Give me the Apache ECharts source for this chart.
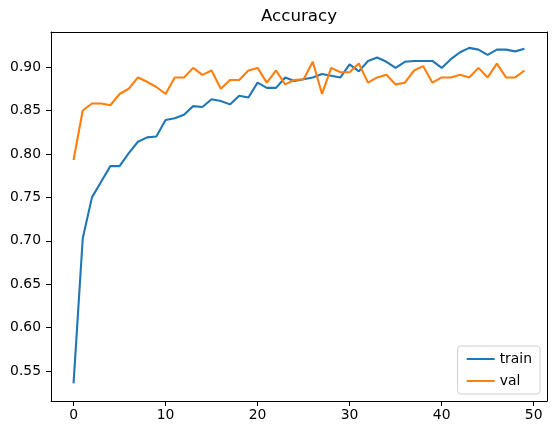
<!DOCTYPE html>
<html>
<head>
<meta charset="utf-8">
<script src="https://cdn.jsdelivr.net/npm/echarts@6/dist/echarts.min.js"></script>
<style>html,body{margin:0;padding:0;background:#fff}#c{width:555px;height:435px}</style>
</head>
<body>
<div id="c"></div>
<script>
var epochs = [];
for (var k = 0; k < 50; k++) epochs.push(k);
var train = [0.536, 0.703, 0.750, 0.768, 0.786, 0.786, 0.801, 0.814, 0.819, 0.820,
             0.839, 0.841, 0.845, 0.855, 0.854, 0.863, 0.861, 0.857, 0.867, 0.865,
             0.882, 0.876, 0.876, 0.888, 0.884, 0.886, 0.888, 0.892, 0.890, 0.888,
             0.903, 0.895, 0.907, 0.911, 0.906, 0.899, 0.906, 0.907, 0.907, 0.907,
             0.899, 0.909, 0.917, 0.922, 0.920, 0.914, 0.920, 0.920, 0.918, 0.921];
var val = [0.793, 0.850, 0.858, 0.858, 0.856, 0.869, 0.875, 0.888, 0.883, 0.877,
           0.869, 0.888, 0.888, 0.899, 0.891, 0.896, 0.875, 0.885, 0.885, 0.896,
           0.899, 0.882, 0.896, 0.880, 0.885, 0.886, 0.906, 0.869, 0.899, 0.894,
           0.894, 0.904, 0.882, 0.888, 0.891, 0.880, 0.882, 0.896, 0.901, 0.882,
           0.888, 0.888, 0.891, 0.888, 0.899, 0.888, 0.904, 0.888, 0.888, 0.896];
var xTicks = [0, 10, 20, 30, 40, 50];
var yTicks = [0.55, 0.60, 0.65, 0.70, 0.75, 0.80, 0.85, 0.90];

function pairs(arr) { return epochs.map(function (e, i) { return [e, arr[i]]; }); }

var font = 'DejaVu Sans';
var xMin = -2.45, xMax = 51.45, yMin = 0.5157, yMax = 0.9403;
var frameAxis = {
  axisLine: { show: true, onZero: false, lineStyle: { color: '#000', width: 1 } },
  axisTick: { show: false }, axisLabel: { show: false }, splitLine: { show: false }
};
var chart = echarts.init(document.getElementById('c'));
chart.setOption({
  animation: false,
  backgroundColor: '#fff',
  title: {
    text: 'Accuracy', left: 299, top: 8, textAlign: 'center', padding: 0,
    textStyle: { fontFamily: font, fontSize: 16.7, fontWeight: 'normal', color: '#000' }
  },
  grid: { left: 51, right: 8, top: 32, bottom: 34 },
  legend: {
    orient: 'vertical', right: 15, bottom: 41,
    backgroundColor: 'rgba(255,255,255,0.8)',
    borderColor: '#d0d0d0', borderWidth: 1, borderRadius: 3,
    padding: [6, 8, 6, 8], itemGap: 8, itemWidth: 28, itemHeight: 14,
    itemStyle: { opacity: 0 },
    textStyle: { fontFamily: font, fontSize: 13.9, color: '#000' },
    data: ['train', 'val']
  },
  xAxis: [{
    type: 'value', min: xMin, max: xMax,
    axisLine: { show: true, onZero: false, lineStyle: { color: '#000', width: 1 } },
    axisTick: { show: true, customValues: xTicks, length: 5, lineStyle: { color: '#000' } },
    axisLabel: { customValues: xTicks, margin: 7, fontFamily: font, fontSize: 13.9, color: '#000' },
    splitLine: { show: false }
  }, Object.assign({ type: 'value', position: 'top', min: xMin, max: xMax }, frameAxis)],
  yAxis: [{
    type: 'value', min: yMin, max: yMax,
    axisLine: { show: true, onZero: false, lineStyle: { color: '#000', width: 1 } },
    axisTick: { show: true, customValues: yTicks, length: 5, lineStyle: { color: '#000' } },
    axisLabel: { customValues: yTicks, margin: 10, fontFamily: font, fontSize: 13.9, color: '#000',
      formatter: function (v) { return v.toFixed(2); } },
    splitLine: { show: false }
  }, Object.assign({ type: 'value', position: 'right', min: yMin, max: yMax }, frameAxis)],
  series: [
    { name: 'train', type: 'line', data: pairs(train), symbol: 'none', color: '#1f77b4',
      lineStyle: { width: 2.1, color: '#1f77b4' } },
    { name: 'val', type: 'line', data: pairs(val), symbol: 'none', color: '#ff7f0e',
      lineStyle: { width: 2.1, color: '#ff7f0e' } }
  ]
});
</script>
</body>
</html>
